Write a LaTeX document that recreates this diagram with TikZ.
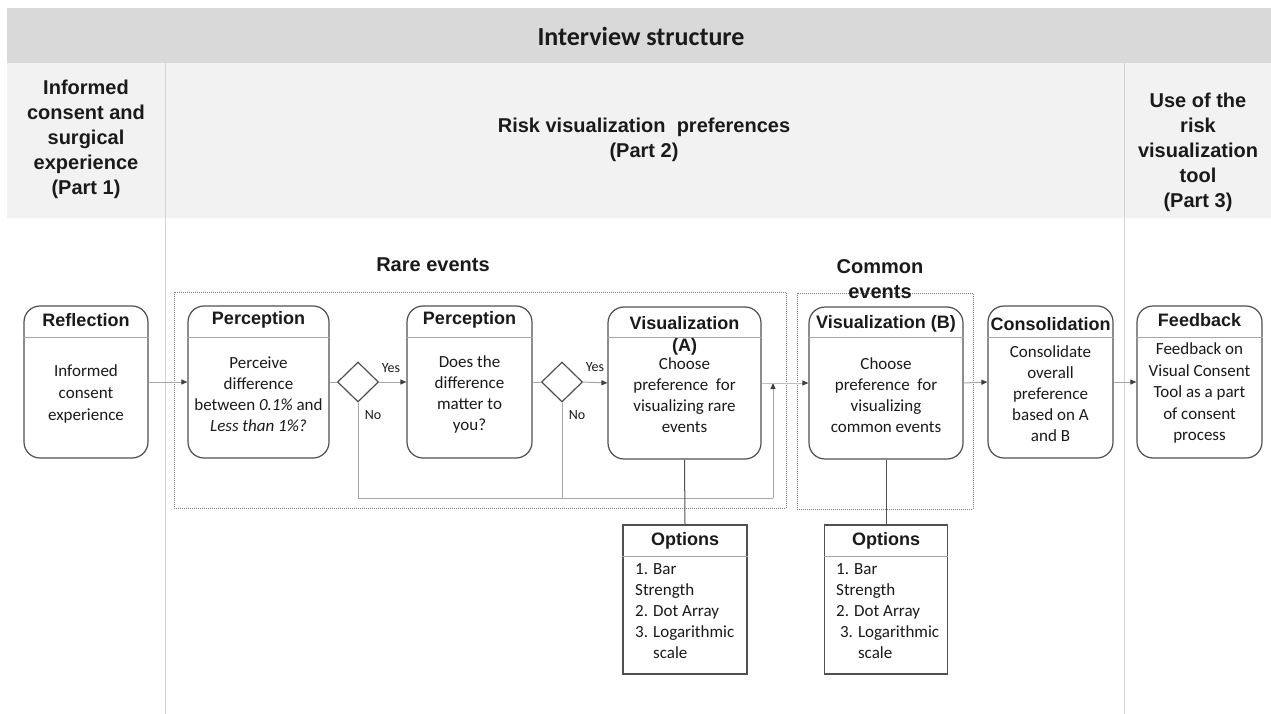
\documentclass[tikz,border=0pt]{standalone}
\usepackage{fontspec}
\setmainfont{Carlito}
\newfontfamily\arialf{Liberation Sans}
\usetikzlibrary{shapes.geometric,arrows.meta}
\definecolor{bandA}{HTML}{D9D9D9}
\definecolor{bandB}{HTML}{F2F2F2}
\definecolor{divc}{HTML}{D4D4D4}
\definecolor{boxline}{HTML}{505050}
\definecolor{sepc}{HTML}{A6A6A6}
\definecolor{lineg}{HTML}{A6A6A6}
\definecolor{lightline}{HTML}{BFBFBF}
\definecolor{tipc}{HTML}{404040}
\definecolor{dotc}{HTML}{808080}
\definecolor{txt}{HTML}{1A1A1A}
\begin{document}
\begin{tikzpicture}[x=1pt,y=-1pt,
  procbox/.style={draw=boxline,line width=1.2pt,rounded corners=16pt,fill=white,inner sep=0pt},
  optbox/.style={draw=boxline,line width=1.2pt,fill=white,inner sep=0pt},
  dia/.style={diamond,draw=boxline,line width=1.2pt,fill=white,inner sep=0pt,minimum width=41pt,minimum height=40pt},
  grp/.style={draw=dotc,line width=0.8pt,dash pattern=on 1pt off 1pt,inner sep=0pt},
  sep/.style={draw=sepc,line width=1pt},
  conn/.style={draw=lineg,line width=1pt},
  arr/.style={-{Triangle[length=6pt,width=5pt,color=tipc]}},
  stem/.style={draw=boxline,line width=1pt},
  body/.style={font=\fontsize{17}{21}\selectfont,align=center,inner sep=0pt,text=txt},
  ttl/.style={font=\arialf\bfseries\fontsize{18}{22}\selectfont,align=center,inner sep=0pt,text=txt},
  part/.style={font=\arialf\bfseries\fontsize{20}{25}\selectfont,align=center,inner sep=0pt,text=txt},
  yn/.style={font=\fontsize{14}{16}\selectfont,inner sep=0pt,text=txt},
  optx/.style={font=\fontsize{17}{20.8}\selectfont,align=left,inner sep=0pt,anchor=west,text=txt}
]
\useasboundingbox (0,0) rectangle (1271,714);
\fill[white] (0,0) rectangle (1271,714);
% bands
\fill[bandA] (7,8) rectangle (1271,63);
\fill[bandB] (7,63) rectangle (1271,218);
\draw[divc,line width=1pt] (165,63) -- (165,714);
\draw[divc,line width=1pt] (1124,63) -- (1124,714);
% header texts
\node[font=\bfseries\fontsize{26}{30}\selectfont,inner sep=0pt,text=txt] (hdr) at (641,36) {Interview structure};
\node[part] (p1) at (86,139) {Informed\\consent and\\surgical\\experience\\(Part 1)};
\node[part] (p2) at (644,140) {Risk visualization\ \ preferences\\(Part 2)};
\node[part] (p3) at (1198,152) {Use of the\\risk\\visualization\\tool\\(Part 3)};
% groups
\node[grp,minimum width=612pt,minimum height=216pt] (rare) at (480,400) {};
\node[grp,minimum width=176pt,minimum height=216pt] (common) at (885,401) {};
\node[part] (rareT) at (433,265) {Rare events};
\node[part] (commonT) at (880,279) {Common\\events};
% boxes
\node[procbox,minimum width=124pt,minimum height=152pt] (refl) at (86,382) {};
\node[procbox,minimum width=141pt,minimum height=152pt] (perc1) at (258.5,382) {};
\node[dia] (d1) at (358,382) {};
\node[procbox,minimum width=125pt,minimum height=152pt] (perc2) at (469.5,382) {};
\node[dia] (d2) at (562,382) {};
\node[procbox,minimum width=153pt,minimum height=152pt] (visA) at (684.5,383) {};
\node[procbox,minimum width=154pt,minimum height=152pt] (visB) at (886,383) {};
\node[procbox,minimum width=125pt,minimum height=152pt] (cons) at (1050.5,382) {};
\node[procbox,minimum width=125pt,minimum height=152pt] (feed) at (1199.5,382) {};
\node[optbox,minimum width=124pt,minimum height=149pt] (optA) at (685,599.5) {};
\node[optbox,minimum width=123pt,minimum height=149pt] (optB) at (886,599.5) {};
% separators
\foreach \b in {refl,perc1,perc2,visA,visB,cons,feed}{
  \draw[sep] (\b.west |- 0,337) -- (\b.east |- 0,337);
}
\draw[sep] (optA.west |- 0,556) -- (optA.east |- 0,556);
\draw[sep] (optB.west |- 0,556) -- (optB.east |- 0,556);
% connectors
\coordinate (loopC) at (773,498);
\coordinate (loopE) at (773,383);
\draw[conn] (perc1.east) -- (d1.west);
\draw[conn] (perc2.east) -- (d2.west);
\draw[conn] (d1.south) |- (loopC);
\draw[conn] (d2.south) -- (d2.south |- loopC);
\draw[conn,arr] (loopC) -- (loopE);
\draw[draw=lightline,line width=1pt,arr] (visA.east) -- (visB.west);
\draw[conn,arr] (refl.east) -- (perc1.west);
\draw[conn,arr] (d1.east) -- (perc2.west);
\draw[conn,arr] (d2.east) -- (visA.west);
\draw[conn,arr] (visB.east) -- (cons.west);
\draw[conn,arr] (cons.east) -- (feed.west);
\draw[stem] (visA.south) -- (optA.north);
\draw[stem] (visB.south) -- (optB.north);
% labels
\node[yn] (yes1) at (391,368) {Yes};
\node[yn] (no1) at (373,415) {No};
\node[yn] (yes2) at (595,367) {Yes};
\node[yn] (no2) at (577,415) {No};
% titles
\node[ttl,text height=13pt,text depth=4pt] (reflT) at (86,322) {Reflection};
\node[ttl,text height=13pt,text depth=4pt] (perc1T) at (258.5,320) {Perception};
\node[ttl,text height=13pt,text depth=4pt] (perc2T) at (469.5,320) {Perception};
\node[ttl] (visAT) at (684.5,336) {Visualization\\(A)};
\node[ttl,text height=13pt,text depth=4pt] (visBT) at (886,324) {Visualization (B)};
\node[ttl,text height=13pt,text depth=4pt] (consT) at (1050.5,326) {Consolidation};
\node[ttl,text height=13pt,text depth=4pt] (feedT) at (1199.5,322) {Feedback};
\node[ttl,text height=13pt,text depth=4pt] (optAT) at (685,541) {Options};
\node[ttl,text height=13pt,text depth=4pt] (optBT) at (886,541) {Options};
% bodies
\node[body,font=\fontsize{17}{22}\selectfont] (reflB) at (86,394) {Informed\\consent\\experience};
\node[body] (perc1B) at (258.5,394) {Perceive\\difference\\between \textit{0.1\%} and\\\textit{Less than 1\%?}};
\node[body] (perc2B) at (469.5,394) {Does the\\difference\\matter to\\you?};
\node[body] (visAB) at (684.5,395) {Choose\\preference\ \ for\\visualizing rare\\events};
\node[body] (visBB) at (886,395) {Choose\\preference\ \ for\\visualizing\\common events};
\node[body] (consB) at (1050.5,394) {Consolidate\\overall\\preference\\based on A\\and B};
\node[body,font=\fontsize{17}{21.5}\selectfont] (feedB) at (1199.5,393) {Feedback on\\Visual Consent\\Tool as a part\\of consent\\process};
\node[optx] (optAB) at (635,611) {1. Bar\\Strength\\2. Dot Array\\3. Logarithmic\\\phantom{3. }scale};
\node[optx] (optBB) at (836,611) {1. Bar\\Strength\\2. Dot Array\\\ 3. Logarithmic\\\phantom{\ 3. }scale};
\end{tikzpicture}
\end{document}
